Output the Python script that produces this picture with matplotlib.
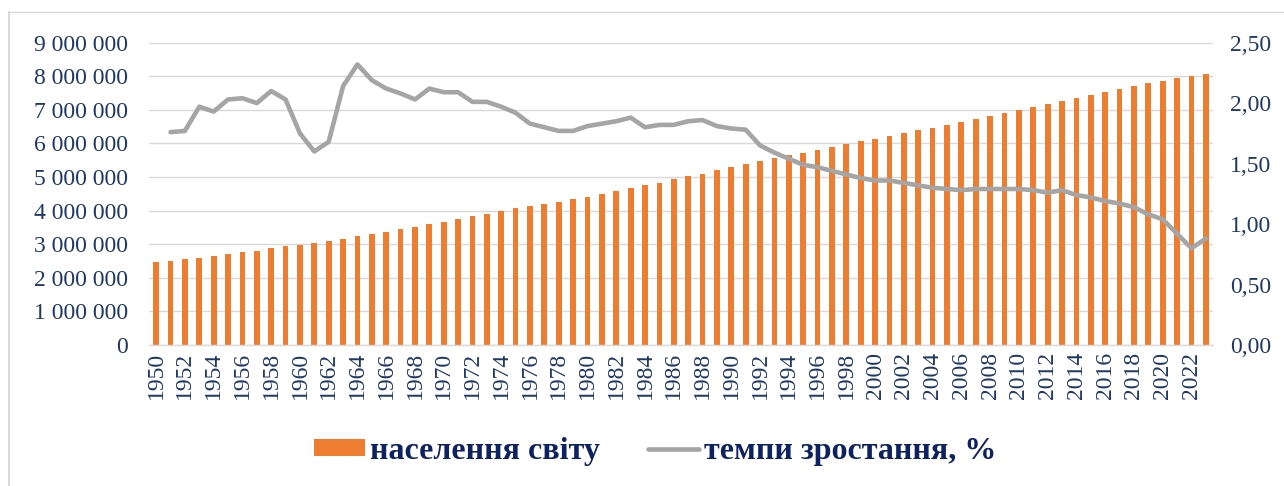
import numpy as np
import matplotlib
matplotlib.use("Agg")
import matplotlib.pyplot as plt
from matplotlib.lines import Line2D
from matplotlib.ticker import FuncFormatter

# ============ DATA ============
years = list(range(1950, 2024))

# world population, thousands
population = [
    2470000, 2500000, 2560000, 2600000, 2650000, 2710000, 2770000, 2810000, 2890000, 2940000,
    2980000, 3040000, 3090000, 3160000, 3230000, 3300000, 3370000, 3440000, 3510000, 3590000,
    3670000, 3750000, 3830000, 3910000, 3990000, 4070000, 4140000, 4190000, 4260000, 4340000,
    4400000, 4480000, 4580000, 4660000, 4750000, 4820000, 4930000, 5020000, 5090000, 5200000,
    5290000, 5380000, 5480000, 5560000, 5650000, 5720000, 5810000, 5890000, 5970000, 6070000,
    6140000, 6220000, 6300000, 6390000, 6470000, 6560000, 6640000, 6730000, 6810000, 6900000,
    6990000, 7070000, 7160000, 7260000, 7350000, 7430000, 7530000, 7620000, 7700000, 7800000,
    7870000, 7950000, 8010000, 8080000,
]

# growth rate, % (line starts in 1951)
growth_years = list(range(1951, 2024))
growth = [
    1.76, 1.77, 1.97, 1.93, 2.03, 2.04, 2.00, 2.10, 2.03, 1.75,
    1.60, 1.68, 2.14, 2.32, 2.19, 2.12, 2.08, 2.03, 2.12, 2.09,
    2.09, 2.01, 2.01, 1.97, 1.92, 1.83, 1.80, 1.77, 1.77, 1.81,
    1.83, 1.85, 1.88, 1.80, 1.82, 1.82, 1.85, 1.86, 1.81, 1.79,
    1.78, 1.65, 1.59, 1.54, 1.49, 1.47, 1.44, 1.41, 1.38, 1.36,
    1.36, 1.34, 1.32, 1.30, 1.29, 1.28, 1.29, 1.29, 1.29, 1.29,
    1.28, 1.26, 1.28, 1.24, 1.22, 1.19, 1.17, 1.14, 1.08, 1.04,
    0.92, 0.80, 0.88,
]

label_bars = "населення світу"
label_line = "темпи зростання, %"

# ============ STYLE ============
ORANGE = "#ED7D31"
GRAY = "#A5A5A5"
GRID = "#D9D9D9"
NAVY = "#1F3864"
LEGEND_NAVY = "#0E2160"

plt.rcParams["font.family"] = ["Liberation Serif", "DejaVu Serif"]

fig = plt.figure(figsize=(12.84, 4.86), dpi=100)
ax = fig.add_axes([0.116, 0.2901, 0.8287, 0.6222])
ax2 = ax.twinx()

x = np.arange(len(years))
ax.bar(x, population, width=0.4, color=ORANGE, zorder=2)

gx = [years.index(y) for y in growth_years]
ax2.plot(gx, growth, color=GRAY, linewidth=3.3, solid_capstyle="round",
         solid_joinstyle="round", zorder=3)

# ============ AXES ============
ax.set_xlim(-0.5, len(years) - 0.5)
ax.set_ylim(0, 9000000)
ax.set_yticks(np.arange(0, 9000001, 1000000))
ax.yaxis.set_major_formatter(FuncFormatter(lambda v, p: f"{int(v):,}".replace(",", " ")))
ax.grid(axis="y", color=GRID, linewidth=1.0, zorder=0)
ax.set_axisbelow(True)

ax2.set_ylim(0, 2.5)
ax2.set_yticks(np.arange(0, 2.51, 0.5))
ax2.yaxis.set_major_formatter(FuncFormatter(lambda v, p: f"{v:.2f}".replace(".", ",")))

ax.set_xticks(x[::2])
ax.set_xticklabels([str(y) for y in years[::2]], rotation=90)

for a in (ax, ax2):
    for s in a.spines.values():
        s.set_visible(False)

ax.spines["bottom"].set_visible(True)
ax.spines["bottom"].set_color(GRID)
ax.spines["bottom"].set_linewidth(1.0)

ax.tick_params(axis="y", length=0, pad=15, labelsize=17, labelcolor=NAVY)
ax.tick_params(axis="x", length=0, pad=5, labelsize=17, labelcolor=NAVY)
ax2.tick_params(axis="y", length=0, pad=12, labelsize=17, labelcolor=NAVY)

# ============ LEGEND ============
handles = [
    plt.Rectangle((0, 0), 1, 1, facecolor=ORANGE, edgecolor="none"),
    Line2D([0], [0], color=GRAY, linewidth=3.3, solid_capstyle="round"),
]
leg = fig.legend(handles, [label_bars, label_line], loc="center",
                 bbox_to_anchor=(0.51, 0.071), ncol=2, frameon=False,
                 prop={"family": ["Liberation Serif"], "weight": "bold", "size": 23},
                 handlelength=1.6, handleheight=0.47, handletextpad=0.15,
                 columnspacing=1.5)
for t in leg.get_texts():
    t.set_color(LEGEND_NAVY)

# chart area border (left and top edges visible in the crop)
fig.add_artist(Line2D([8.5 / 1284, 8.5 / 1284], [0, 1 - 12 / 486],
                      transform=fig.transFigure, color=GRID, linewidth=1.5))
fig.add_artist(Line2D([8.5 / 1284, 1], [1 - 12 / 486, 1 - 12 / 486],
                      transform=fig.transFigure, color=GRID, linewidth=1.0))

fig.savefig("out.png", dpi=100)
